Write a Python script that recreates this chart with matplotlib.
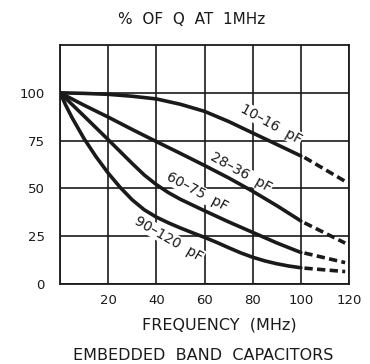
import matplotlib
matplotlib.use("Agg")
import matplotlib.pyplot as plt

# Datos (frecuencia en MHz, % de Q a 1 MHz)
freq = [0, 10, 20, 30, 40, 50, 60, 70, 80, 90, 100]
q_10_16 = [100, 99.7, 99.2, 98.2, 96.8, 94, 90.3, 85, 79, 73, 67]
q_28_36 = [100, 93.5, 87.3, 80.8, 74.5, 68.3, 62, 55.5, 48.5, 41, 33]

freq_60 = [0, 10, 20, 30, 35, 40, 45, 50, 60, 70, 80, 90, 100]
q_60_75 = [100, 87.8, 75.5, 63, 57, 52, 47.8, 44.3, 38.3, 32.5, 27, 21.5, 16.5]

freq_90 = [0, 2.5, 5, 10, 15, 20, 25, 30, 35, 40, 45, 50, 55, 60, 65, 70, 75, 80, 85, 90, 95, 100]
q_90_120 = [100, 93.2, 87, 76, 66.5, 58, 50.5, 44, 38.8, 35, 32, 29.3, 26.8, 24.4, 21.8,
            19, 16.3, 14, 12.1, 10.6, 9.4, 8.5]

# Tramos extrapolados (discontinuos)
freq_ext = [101.5, 118.4]
ext_10_16 = [66.2, 53.7]
ext_28_36 = [32, 21.4]
ext_60_75 = [16.2, 11.2]
ext_90_120 = [8.3, 6.5]

etiquetas = ['10–16 pF', '28–36 pF', '60–75 pF', '90–120 pF']
pos_etiquetas = [(87.6, 83.7), (75.2, 58.3), (56.8, 48.2), (45.3, 23.6)]
rot_etiquetas = [-29, -29, -28, -30]

xticks = [0, 20, 40, 60, 80, 100, 120]
xtick_labels = ['', '20', '40', '60', '80', '100', '120']
yticks = [0, 25, 50, 75, 100]
ytick_labels = ['0', '25', '50', '75', '100']

plt.rcParams['font.family'] = ['DejaVu Sans']

fig = plt.figure(figsize=(3.7, 3.64), dpi=100)
ax = fig.add_axes([60 / 370, 80 / 364, 289 / 370, 239 / 364])

negro = '#1a1a1a'
lw = 2.6
for x, y in [(freq, q_10_16), (freq, q_28_36), (freq_60, q_60_75), (freq_90, q_90_120)]:
    ax.plot(x, y, color=negro, lw=lw, solid_capstyle='round', solid_joinstyle='round', zorder=4)
for y in [ext_10_16, ext_28_36, ext_60_75, ext_90_120]:
    ax.plot(freq_ext, y, color=negro, lw=lw, ls=(0, (2.3, 1.2)), zorder=4)

for txt, (x, y), r in zip(etiquetas, pos_etiquetas, rot_etiquetas):
    ax.text(x, y, txt.replace(' ', '  '), rotation=r, ha='center', va='center',
            fontsize=10, color=negro, zorder=3, rotation_mode='anchor',
            bbox=dict(boxstyle='square,pad=0.05', fc='white', ec='none'))

ax.set_xlim(0, 120)
ax.set_ylim(0, 125)
ax.set_xticks(xticks)
ax.set_xticklabels(xtick_labels)
ax.set_yticks(yticks)
ax.set_yticklabels(ytick_labels)
ax.tick_params(length=0, labelsize=9.5, colors=negro)
ax.tick_params(axis='x', pad=7)
ax.tick_params(axis='y', pad=11)
ax.grid(True, color=negro, lw=1.2)
for s in ax.spines.values():
    s.set_color(negro)
    s.set_linewidth(1.3)

fig.text(192 / 370, 1 - 19 / 364, '%  OF  Q  AT  1MHz', ha='center', va='center',
         fontsize=11, color=negro)
fig.text(219 / 370, 1 - 325 / 364, 'FREQUENCY  (MHz)', ha='center', va='center',
         fontsize=11.5, color=negro)
fig.text(203 / 370, 1 - 356 / 364, 'EMBEDDED  BAND  CAPACITORS', ha='center', va='center',
         fontsize=11.5, color=negro)

fig.savefig('out.png', dpi=100)
